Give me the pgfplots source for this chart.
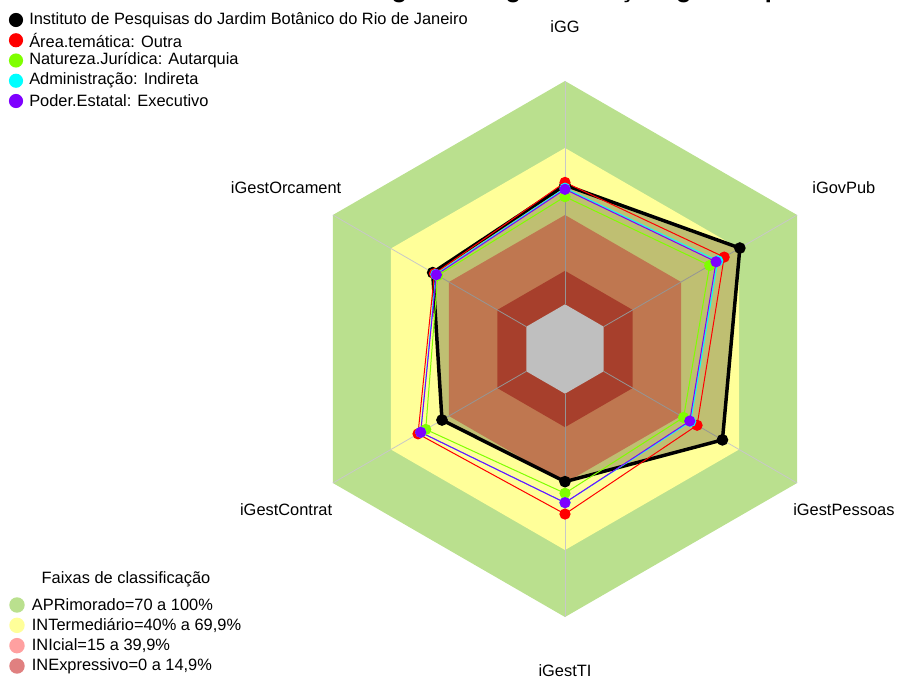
\documentclass[border=0pt]{standalone}
\usepackage{pgfplots}
\pgfplotsset{compat=1.18}
\usepgfplotslibrary{polar}
\usepackage{pgfplotstable}
\usepackage{fontspec}
\setmainfont{Liberation Sans}

\definecolor{bandApr}{RGB}{186,224,142}
\definecolor{bandInt}{RGB}{255,255,153}
\definecolor{bandIni}{RGB}{255,160,107}
\definecolor{bandInex}{RGB}{224,85,59}
\definecolor{legIni}{RGB}{255,160,160}
\definecolor{legInex}{RGB}{224,128,128}
\definecolor{serRed}{RGB}{255,0,0}
\definecolor{serGreen}{RGB}{127,255,0}
\definecolor{serCyan}{RGB}{0,255,255}
\definecolor{serPurple}{RGB}{127,0,255}

% angles: iGG 90, iGovPub 30, iGestPessoas -30, iGestTI -90, iGestContrat -150, iGestOrcament 150
\pgfplotstableread{
ang val
90 53.4
30 70.4
-30 61.4
-90 39.4
-150 43.6
150 48.4
}\tabInst
\pgfplotstableread{
ang val
90 54.6
30 62.3
-30 48.3
-90 53.9
-150 56.0
150 47.5
}\tabArea
\pgfplotstableread{
ang val
90 48.2
30 54.8
-30 41.3
-90 44.6
-150 52.0
150 45.8
}\tabNat
\pgfplotstableread{
ang val
90 52.0
30 59.0
-30 45.0
-90 48.8
-150 54.6
150 46.8
}\tabAdm
\pgfplotstableread{
ang val
90 51.5
30 58.1
-30 44.5
-90 48.8
-150 54.6
150 46.5
}\tabPod

\begin{document}
\begin{tikzpicture}[font=\fontsize{12.3}{14}\selectfont]
\path[use as bounding box] (-423.75pt,-248.25pt) rectangle (249.75pt,261.75pt);
\begin{polaraxis}[
  at={(0pt,0pt)}, anchor=center,
  scale only axis, width=402pt, height=402pt,
  hide axis, clip=false,
  xmin=0, xmax=360, ymin=-20, ymax=100,
  y coord trafo/.code={\pgfmathparse{#1+20}},
  y coord inv trafo/.code={\pgfmathparse{#1-20}},
]
% classification bands
\addplot[draw=none, fill=bandApr, forget plot] coordinates {(90,100) (30,100) (-30,100) (-90,100) (-150,100) (150,100)} -- cycle;
\addplot[draw=none, fill=bandInt, forget plot] coordinates {(90,70) (30,70) (-30,70) (-90,70) (-150,70) (150,70)} -- cycle;
\addplot[draw=none, fill=bandIni, forget plot] coordinates {(90,40) (30,40) (-30,40) (-90,40) (-150,40) (150,40)} -- cycle;
\addplot[draw=none, fill=bandInex, forget plot] coordinates {(90,15) (30,15) (-30,15) (-90,15) (-150,15) (150,15)} -- cycle;
\addplot[draw=none, fill=white, forget plot] coordinates {(90,0) (30,0) (-30,0) (-90,0) (-150,0) (150,0)} -- cycle;
% spokes
\pgfplotsinvokeforeach{90,30,-30,-90,-150,150}{
  \addplot[draw={rgb,255:red,200;green,200;blue,200}, line width=0.6pt, forget plot] coordinates {(#1,0) (#1,100)};
}
% series
\addplot[draw=none, fill=black, fill opacity=0.25, forget plot] table[x=ang, y=val] {\tabInst} -- cycle;
\addplot[black, line width=2.6pt, mark=*, mark size=3pt, mark options={solid}] table[x=ang, y=val] {\tabInst} -- cycle;
\addplot[serRed, line width=0.75pt, mark=*, mark size=3.8pt] table[x=ang, y=val] {\tabArea} -- cycle;
\addplot[serGreen, line width=0.75pt, mark=*, mark size=3.8pt] table[x=ang, y=val] {\tabNat} -- cycle;
\addplot[serCyan, line width=0.75pt, mark=*, mark size=3.8pt] table[x=ang, y=val] {\tabAdm} -- cycle;
\addplot[serPurple, line width=0.75pt, mark=*, mark size=3.8pt] table[x=ang, y=val] {\tabPod} -- cycle;
\end{polaraxis}

% axis labels
\node at (90:241.5pt) {iGG};
\node at (30:241.5pt) {iGovPub};
\node at (-30:241.5pt) {iGestPessoas};
\node at (-90:241.5pt) {iGestTI};
\node at (-150:241.5pt) {iGestContrat};
\node at (150:241.5pt) {iGestOrcament};

% title (cut off at the top edge)
\node[font=\bfseries\fontsize{19}{22}\selectfont, anchor=base, inner sep=0pt] at (1.5pt,263.5pt) {Índice integrado de governança e gestão públicas};

% series legend
\foreach \c/\t [count=\i from 0] in {black/{Instituto de Pesquisas do Jardim Botânico do Rio de Janeiro}, serRed/{Área.temática: Outra}, serGreen/{Natureza.Jurídica: Autarquia}, serCyan/{Administração: Indireta}, serPurple/{Poder.Estatal: Executivo}}{
  \fill[\c] (-411.75pt,246.75pt-\i*15.19pt) circle (5.3pt);
  \node[anchor=west, inner sep=0pt] at (-402pt,246.75pt-\i*15.19pt) {\t};
}

% band legend
\node at (-329.25pt,-172.5pt) {Faixas de classificação};
\foreach \c/\t [count=\i from 0] in {bandApr/{APRimorado=70 a 100\%}, bandInt/{INTermediário=40\% a 69,9\%}, legIni/{INIcial=15 a 39,9\%}, legInex/{INExpressivo=0 a 14,9\%}}{
  \fill[\c] (-411pt,-192pt-\i*15.25pt) circle (5.8pt);
  \node[anchor=west, inner sep=0pt] at (-400pt,-192pt-\i*15.25pt) {\t};
}
\end{tikzpicture}
\end{document}
